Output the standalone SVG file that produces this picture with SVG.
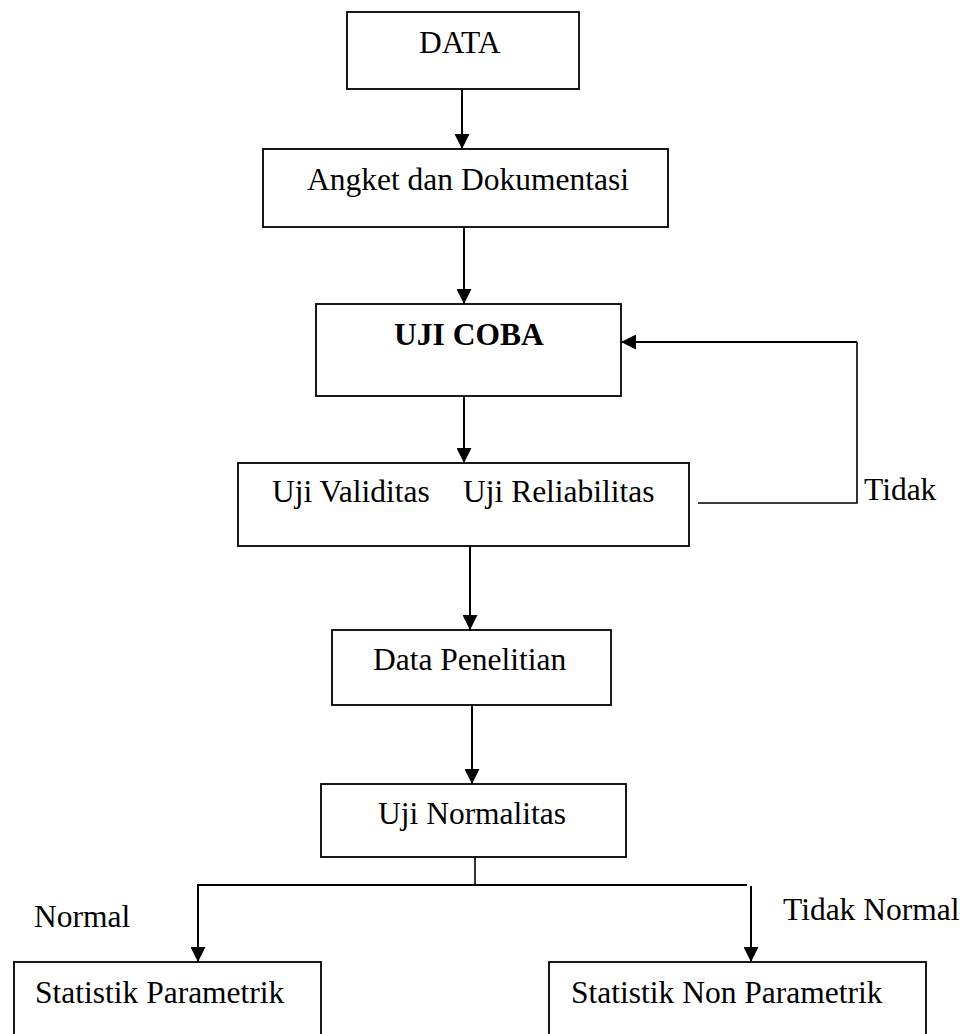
<svg xmlns="http://www.w3.org/2000/svg" width="966" height="1034" viewBox="0 0 966 1034">
<style>
.box{fill:#fff;stroke:#000;stroke-width:1.8}
.t{font-family:"Liberation Serif","Times New Roman",serif;font-size:31.5px;fill:#000}
.b{font-weight:bold}
.c{fill:none;stroke:#000;stroke-width:2}
.f{fill:none;stroke:#000;stroke-width:1.6}
</style>
<defs>
<marker id="ah" markerUnits="userSpaceOnUse" markerWidth="15" markerHeight="15" refX="15" refY="7.5" orient="auto">
<path d="M0,0 L15,7.5 L0,15 z" fill="#000"/>
</marker>
</defs>
<rect width="966" height="1034" fill="#fff"/>
<g id="connectors">
<line class="c" x1="462" y1="89" x2="462" y2="149" marker-end="url(#ah)"/>
<line class="c" x1="464" y1="227" x2="464" y2="304" marker-end="url(#ah)"/>
<line class="c" x1="464" y1="396" x2="464" y2="463" marker-end="url(#ah)"/>
<line class="c" x1="470" y1="546" x2="470" y2="630" marker-end="url(#ah)"/>
<line class="c" x1="472" y1="705" x2="472" y2="784" marker-end="url(#ah)"/>
<polyline class="f" points="698,503 857,503 857,342"/>
<line class="c" x1="857" y1="342" x2="621" y2="342" marker-end="url(#ah)"/>
<line class="f" x1="475" y1="857" x2="475" y2="885"/>
<line class="c" x1="198" y1="885" x2="747" y2="885"/>
<line class="c" x1="198" y1="884" x2="198" y2="962" marker-end="url(#ah)"/>
<line class="c" x1="751" y1="886" x2="751" y2="962" marker-end="url(#ah)"/>
</g>
<g id="data">
<rect class="box" x="347" y="12" width="232" height="77"/>
<text class="t" x="419" y="53">DATA</text>
</g>
<g id="angket">
<rect class="box" x="263" y="149" width="405" height="78"/>
<text class="t" x="307" y="190">Angket dan Dokumentasi</text>
</g>
<g id="ujicoba">
<rect class="box" x="316" y="304" width="305" height="92"/>
<text class="t b" x="394" y="345">UJI COBA</text>
</g>
<g id="validitas">
<rect class="box" x="238" y="463" width="451" height="83"/>
<text class="t"><tspan x="272" y="502">Uji Validitas</tspan><tspan x="463" y="502">Uji Reliabilitas</tspan></text>
</g>
<g id="penelitian">
<rect class="box" x="332" y="630" width="279" height="75"/>
<text class="t" x="373" y="670">Data Penelitian</text>
</g>
<g id="normalitas">
<rect class="box" x="321" y="784" width="305" height="73"/>
<text class="t" x="378" y="824">Uji Normalitas</text>
</g>
<g id="parametrik">
<rect class="box" x="14" y="962" width="307" height="90"/>
<text class="t" x="35" y="1003">Statistik Parametrik</text>
</g>
<g id="nonparametrik">
<rect class="box" x="549" y="962" width="377" height="90"/>
<text class="t" x="571" y="1003">Statistik Non Parametrik</text>
</g>
<g id="labels">
<text class="t" x="864" y="500">Tidak</text>
<text class="t" x="34" y="927">Normal</text>
<text class="t" x="783" y="920">Tidak Normal</text>
</g>
</svg>
